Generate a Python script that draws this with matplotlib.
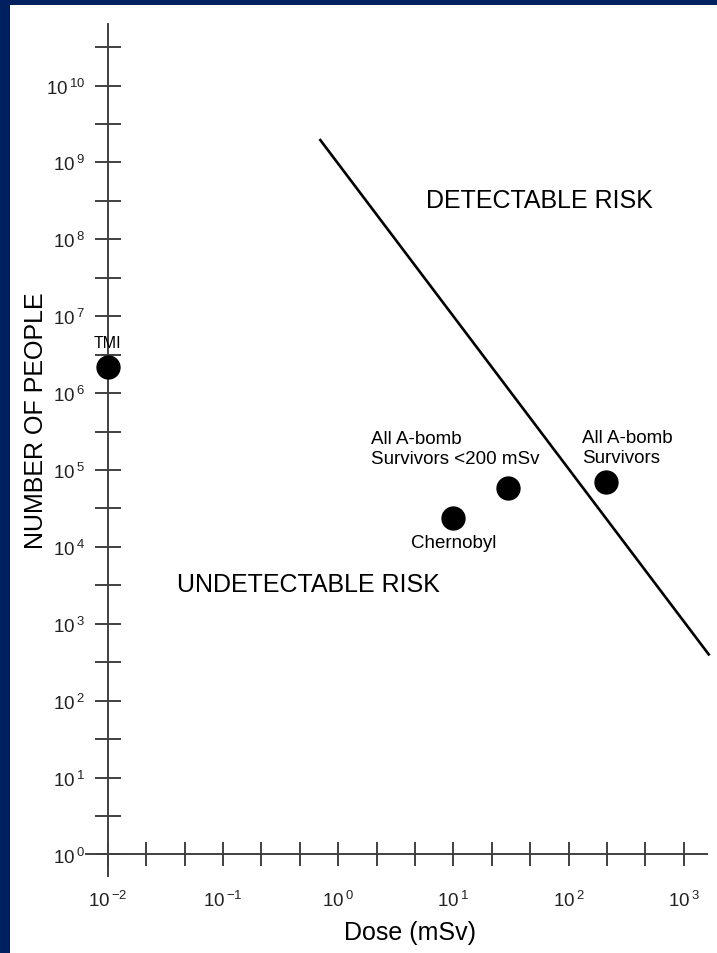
import matplotlib
matplotlib.use("Agg")
import matplotlib.pyplot as plt
import matplotlib.ticker as mticker
from matplotlib.patches import Rectangle
import numpy as np

plt.rcParams['font.family'] = ['Liberation Sans', 'DejaVu Sans']
plt.rcParams['mathtext.fontset'] = 'custom'
plt.rcParams['mathtext.rm'] = 'Liberation Sans'
plt.rcParams['mathtext.default'] = 'regular'

# data points (dose in mSv, number of people)
names = ['TMI', 'Chernobyl', 'All A-bomb\nSurvivors <200 mSv', 'All A-bomb\nSurvivors']
dose = [0.01, 10, 30, 210]
people = [2.2e6, 2.4e4, 5.8e4, 6.9e4]

# boundary line between detectable / undetectable risk
line_dose = [0.70, 1650]
line_people = [1.95e9, 400]

navy = '#002060'
axis_col = '#404040'


def pow_label(v, pos):
    # 10 with a small superscript exponent
    e = int(round(np.log10(v)))
    return r'$10^{\,\mathregular{%d}}$' % e


fig = plt.figure(figsize=(7.17, 9.54), dpi=100, facecolor=navy)
fig.patches.append(Rectangle((10 / 717, 0), 1, 948 / 954, transform=fig.transFigure,
                             facecolor='white', edgecolor='none', zorder=-10))

ax = fig.add_axes([86 / 717, 77 / 954, 620.7 / 717, 852 / 954])
ax.set_zorder(5)
ax.set_facecolor('none')
ax.set_xscale('log')
ax.set_yscale('log')
ax.set_xlim(10 ** -2.19, 10 ** 3.2)
ax.set_ylim(10 ** -0.28, 10 ** 10.8)

for s in ['top', 'right']:
    ax.spines[s].set_visible(False)
ax.spines['left'].set_position(('data', 0.01))
ax.spines['bottom'].set_position(('data', 1))
for s in ['left', 'bottom']:
    ax.spines[s].set_color(axis_col)
    ax.spines[s].set_linewidth(1.4)

ax.xaxis.set_major_locator(mticker.FixedLocator([10.0 ** k for k in range(-2, 4)]))
ax.xaxis.set_minor_locator(mticker.FixedLocator([10 ** (k / 3) for k in range(-6, 10) if k % 3]))
ax.yaxis.set_major_locator(mticker.FixedLocator([10.0 ** k for k in range(0, 11)]))
ax.yaxis.set_minor_locator(mticker.FixedLocator([10 ** (k + 0.5) for k in range(0, 11)]))
ax.xaxis.set_major_formatter(mticker.FuncFormatter(pow_label))
ax.yaxis.set_major_formatter(mticker.FuncFormatter(pow_label))
ax.xaxis.set_minor_formatter(mticker.NullFormatter())
ax.yaxis.set_minor_formatter(mticker.NullFormatter())

ax.tick_params(axis='y', which='both', direction='inout', length=19, width=1.4,
               color=axis_col, labelsize=13.5, pad=7, labelcolor='#222222')
ax.tick_params(axis='x', which='both', direction='inout', length=17, width=1.4,
               color=axis_col, labelsize=13.5, pad=17, labelcolor='#222222')

ax.set_xlabel('Dose (mSv)', fontsize=18, va='center')
ax.xaxis.set_label_coords(0.522, -0.0657)
ax.set_ylabel('NUMBER OF PEOPLE', fontsize=18, va='center')
ax.yaxis.set_label_coords(-0.08, 0.536)

ax.plot(line_dose, line_people, color='black', lw=1.9, clip_on=False, zorder=3)
ax.plot(dose, people, 'o', color='black', ms=16.5, clip_on=False, zorder=4)

ax.text(56, 3.2e8, 'DETECTABLE RISK', fontsize=18, ha='center', va='center')
ax.text(0.556, 3.28e3, 'UNDETECTABLE RISK', fontsize=18, ha='center', va='center')

# point labels, offsets in points
offsets = [(0, 17.5), (0, -18), (-99, 28.5), (-17, 25)]
aligns = ['center', 'center', 'left', 'left']
for n, x, y, off, ha in zip(names, dose, people, offsets, aligns):
    if n == 'TMI':
        ax.annotate(n, (x, y), xytext=off, textcoords='offset points', ha=ha, va='center',
                    fontsize=11.5, family=['Liberation Sans Narrow', 'Liberation Sans'])
    else:
        ax.annotate(n, (x, y), xytext=off, textcoords='offset points', ha=ha, va='center',
                    fontsize=13.5, linespacing=1.2)

fig.savefig('out.png', dpi=100, facecolor=navy)
